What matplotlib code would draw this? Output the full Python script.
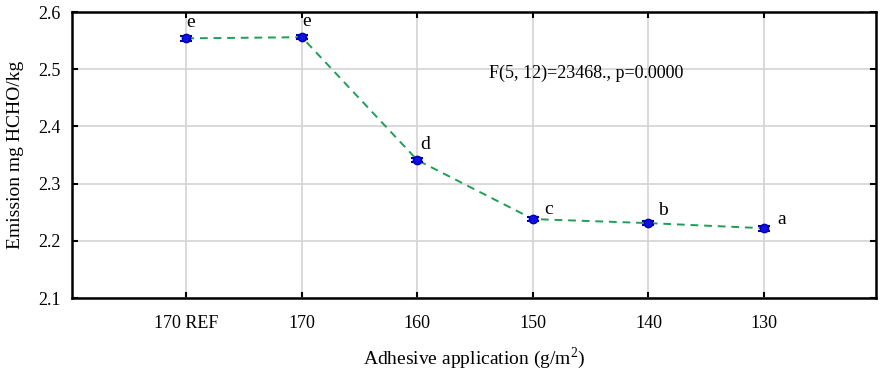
import matplotlib.pyplot as plt

labels = ['170 REF', '170', '160', '150', '140', '130']
emission = [2.554, 2.556, 2.341, 2.238, 2.231, 2.222]
err = [0.004, 0.004, 0.004, 0.004, 0.004, 0.004]
groups = ['e', 'e', 'd', 'c', 'b', 'a']
stat_text = 'F(5, 12)=23468., p=0.0000'

plt.rcParams['font.family'] = ['Liberation Serif', 'DejaVu Serif']
plt.rcParams['mathtext.fontset'] = 'custom'
plt.rcParams['mathtext.rm'] = 'Liberation Serif'
plt.rcParams['font.size'] = 13

fig = plt.figure(figsize=(8.81, 3.76), dpi=100)
ax = fig.add_axes([0.0817, 0.2074, 0.9126, 0.7606])

x = list(range(len(labels)))
ax.plot(x, emission, '--', color='#1f9e55', lw=1.4, dashes=(4, 3), zorder=2)
ax.errorbar(x, emission, yerr=err, fmt='o', ms=6, mfc='#1010e0', mec='#0000b0',
            ecolor='#0000b0', capsize=4, elinewidth=1.2, capthick=1.5, zorder=3)

offsets = [(0, 8), (0, 8), (2, 8), (8, 4), (7, 6), (10, 3)]
for xi, yi, g, off in zip(x, emission, groups, offsets):
    ax.annotate(g, (xi, yi), xytext=off, textcoords='offset points', fontsize=14)

ax.text(2.62, 2.493, stat_text, fontsize=13, va='center')

ax.set_xlim(-0.99, 5.97)
ax.set_ylim(2.1, 2.6)
ax.set_xticks(x)
ax.set_xticklabels(labels)
ax.set_yticks([2.1, 2.2, 2.3, 2.4, 2.5, 2.6])
ax.set_yticklabels(['2.1', '2.2', '2.3', '2.4', '2.5', '2.6'])
ax.grid(True, color='#d3d3d3', lw=1.2)
ax.set_axisbelow(True)
ax.tick_params(direction='in', top=True, right=True, length=4, width=1.5, labelsize=13)
ax.tick_params(axis='x', pad=12)
ax.tick_params(axis='y', pad=8)
for s in ax.spines.values():
    s.set_linewidth(1.8)

ax.set_xlabel('Adhesive application (g/m$^\\mathregular{2}$)', fontsize=14, labelpad=10)
ax.set_ylabel('Emission mg HCHO/kg', fontsize=14, labelpad=10)

fig.savefig('out.png', dpi=100)
